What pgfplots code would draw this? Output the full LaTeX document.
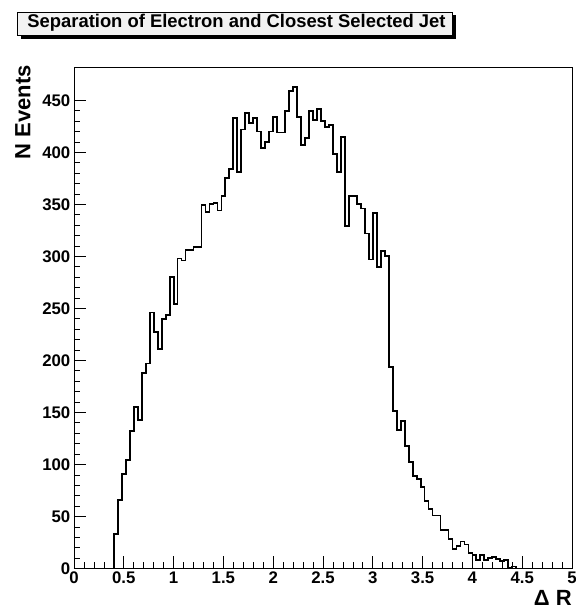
\documentclass[border=0pt]{standalone}
\usepackage{fontspec}
\setmainfont{Liberation Sans}
\usepackage{pgfplots}
\pgfplotsset{compat=1.18}
\definecolor{titlefill}{RGB}{242,242,242}

% bin contents, left edges, width 0.04
\begin{document}
\begin{tikzpicture}
\useasboundingbox (-74pt,-43.5pt) rectangle (501pt,568.5pt);
\begin{axis}[
    at={(0pt,0pt)}, anchor=south west,
    scale only axis, width=498pt, height=501.5pt,
    xmin=0, xmax=5, ymin=0, ymax=482,
    xtick={0,0.5,...,5}, ytick={0,50,...,450},
    minor x tick num=4, minor y tick num=4,
    tick align=inside, tick pos=left,
    major tick length=12.5pt, minor tick length=6.3pt,
    axis line style={line width=0.8pt},
    every tick/.style={black, line width=0.7pt},
    /pgf/number format/assume math mode=true,
    ticklabel style={font={\fontsize{16.8}{18}\selectfont\bfseries}, inner sep=0pt},
    xticklabel style={yshift=-3pt},
    yticklabel style={xshift=-3.5pt},
    xlabel={Δ R}, ylabel={N Events},
    label style={font={\fontsize{22}{24}\selectfont\bfseries}, inner sep=0pt},
    xlabel style={at={(axis description cs:1,-0.0588)}, anchor=east},
    ylabel style={at={(axis description cs:-0.1024,1.004)}, anchor=east},
]
\addplot[const plot, line width=1.8pt, black] coordinates {
(0,0) (0.40,33) (0.44,66) (0.48,91) (0.52,104) (0.56,132) (0.60,155) (0.64,143)
(0.68,188) (0.72,197) (0.76,246) (0.80,227) (0.84,211) (0.88,240) (0.92,244)
(0.96,280) (1.00,254) (1.04,298) (1.08,296) (1.12,306) (1.16,306) (1.20,309)
(1.24,309) (1.28,349) (1.32,343) (1.36,350) (1.40,351) (1.44,344) (1.48,358)
(1.52,375) (1.56,384) (1.60,433) (1.64,381) (1.68,422) (1.72,438) (1.76,428)
(1.80,433) (1.84,420) (1.88,404) (1.92,410) (1.96,420) (2.00,434) (2.04,419)
(2.08,419) (2.12,440) (2.16,459) (2.20,463) (2.24,434) (2.28,407) (2.32,414)
(2.36,440) (2.40,431) (2.44,442) (2.48,430) (2.52,424) (2.56,426) (2.60,398)
(2.64,381) (2.68,415) (2.72,329) (2.76,358) (2.80,358) (2.84,350) (2.88,346)
(2.92,322) (2.96,297) (3.00,342) (3.04,290) (3.08,305) (3.12,300) (3.16,194)
(3.20,151) (3.24,133) (3.28,142) (3.32,118) (3.36,102) (3.40,89) (3.44,86)
(3.48,78) (3.52,65) (3.56,57) (3.60,51) (3.64,51) (3.68,37) (3.72,37)
(3.76,28) (3.80,19) (3.84,22) (3.88,26) (3.92,23) (3.96,15) (4.00,13)
(4.04,8) (4.08,13) (4.12,8) (4.16,10) (4.20,11) (4.24,9) (4.28,7) (4.32,8)
(4.36,1) (4.40,2) (4.44,0) (5,0)
};
\end{axis}
% title pave with shadow
\fill[black] (-52.7pt,529.5pt) rectangle (382pt,553pt);
\draw[fill=titlefill, line width=0.8pt] (-56.7pt,532.8pt) rectangle (378pt,556.5pt);
\node[anchor=base, inner sep=0pt, font={\fontsize{18.4}{20}\selectfont\bfseries}]
  at (162.5pt,541.2pt) {Separation of Electron and Closest Selected Jet};
\end{tikzpicture}
\end{document}
